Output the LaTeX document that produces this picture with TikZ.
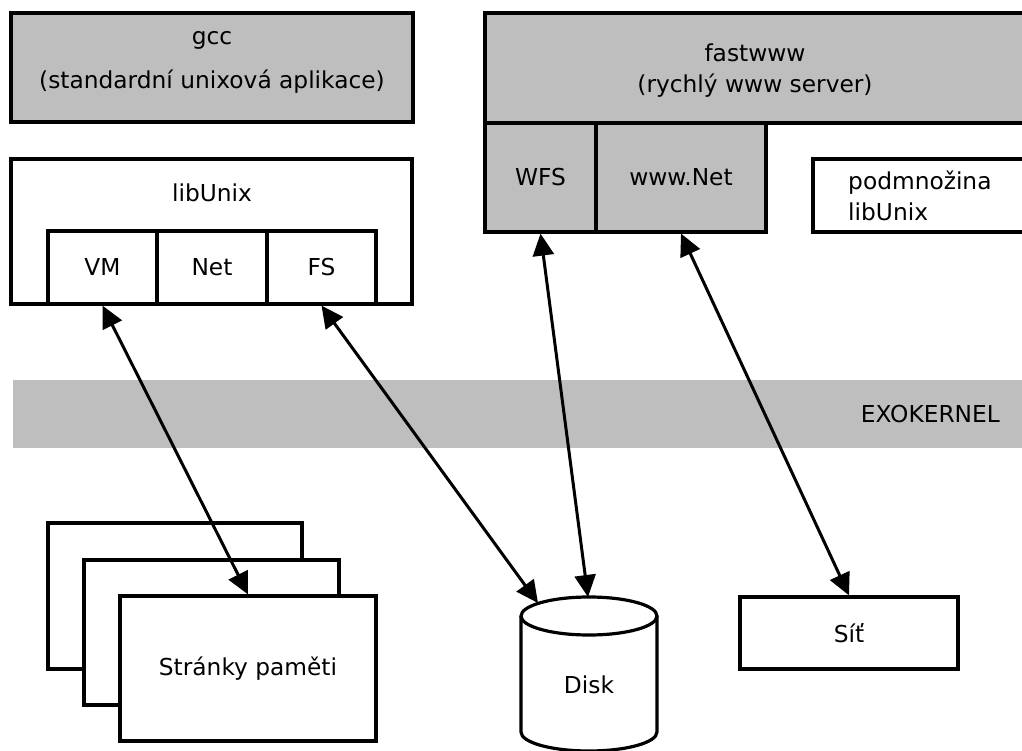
\documentclass[tikz,border=0pt]{standalone}
\usepackage{fontspec}
\setmainfont{DejaVu Sans}
\usetikzlibrary{arrows.meta}
\definecolor{boxgray}{RGB}{190,190,190}

\begin{document}
\begin{tikzpicture}
  [x=1pt,y=-1pt,font=\fontsize{23.3}{31}\selectfont,
   every node/.style={inner sep=0pt},
   box/.style={draw=black,line width=3.2pt,fill=white},
   graybox/.style={box,fill=boxgray}]
  \useasboundingbox (0,0) rectangle (1022,751);
  % horni vrstva - aplikace
  \node[graybox,minimum width=402pt,minimum height=109pt] (gcc) at (212,67.5) {};
  \node (gcct) at (212,40) {gcc};
  \node (gccs) at (212,82) {(standardní unixová aplikace)};
  \node[graybox,minimum width=540pt,minimum height=110pt] (fast) at (755,68) {};
  \node[align=center] (fastt) at (755,71) {fastwww\\(rychlý www server)};
  % knihovny
  \node[box,minimum width=401pt,minimum height=145pt] (lib) at (211.5,231.5) {};
  \node (libt) at (212,193) {libUnix};
  \node[box,minimum width=109pt,minimum height=73pt] (vm) at (102.5,267.5) {VM};
  \node[box,minimum width=110pt,minimum height=73pt] (net) at (212,267.5) {Net};
  \node[box,minimum width=109pt,minimum height=73pt] (fs) at (321.5,267.5) {FS};
  \node[graybox,minimum width=111pt,minimum height=109pt] (wfs) at (540.5,177.5) {WFS};
  \node[graybox,minimum width=170pt,minimum height=109pt] (wwwnet) at (681,177.5) {www.Net};
  \node[box,minimum width=220pt,minimum height=73pt] (sub) at (923,195.5) {};
  \node[align=left,anchor=west] (subt) at (848,196) {podmnožina\\libUnix};
  % exokernel
  \fill[boxgray] (13,380) rectangle (1022,448);
  \node[anchor=east] (exo) at (1000,414) {EXOKERNEL};
  % hardware
  \node[box,minimum width=254pt,minimum height=146pt] (page3) at (175,596) {};
  \node[box,minimum width=255pt,minimum height=145pt] (page2) at (211.5,632.5) {};
  \node[box,minimum width=256pt,minimum height=145pt] (page1) at (248,668.5) {Stránky paměti};
  \draw[line width=3.2pt,fill=white] (521,616) -- (521,732)
    arc[start angle=180,end angle=0,x radius=68,y radius=19] -- (657,616);
  \draw[line width=3.2pt,fill=white] (589,616) ellipse[x radius=68,y radius=19];
  \node (disk) at (589,685) {Disk};
  \coordinate (disktop) at (588,597);
  \coordinate (diskleft) at (538,603);
  \node[box,minimum width=218pt,minimum height=72pt] (sit) at (849,633) {Síť};
  \begin{scope}[line width=3pt,{Triangle[length=22pt,width=21pt]}-{Triangle[length=22pt,width=21pt]}]
    \foreach \from/\to in {vm/page1.north,fs/diskleft,wfs/disktop,wwwnet/sit.north}
    \draw (\from.south) -- (\to);
  \end{scope}
\end{tikzpicture}
\end{document}
